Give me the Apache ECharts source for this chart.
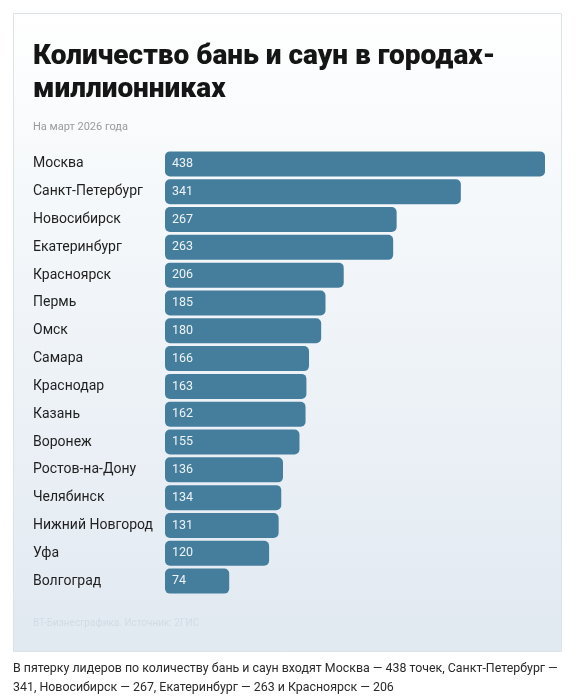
<!DOCTYPE html>
<html>
<head>
<meta charset="utf-8">
<script src="https://cdn.jsdelivr.net/npm/echarts@6/dist/echarts.min.js"></script>
<style>html,body{margin:0;padding:0;background:#fff;}#c{width:576px;height:700px;}</style>
</head>
<body>
<div id="c"></div>
<script>
const cities = ['Москва','Санкт-Петербург','Новосибирск','Екатеринбург','Красноярск','Пермь','Омск','Самара','Краснодар','Казань','Воронеж','Ростов-на-Дону','Челябинск','Нижний Новгород','Уфа','Волгоград'];
const counts = [438,341,267,263,206,185,180,166,163,162,155,136,134,131,120,74];
const titleText = 'Количество бань и саун в городах-\nмиллионниках';
const subtitleText = 'На март 2026 года';
const sourceText = 'ВТ-Бизнесграфика. Источник: 2ГИС';
const captionText = 'В пятерку лидеров по количеству бань и саун входят Москва — 438 точек, Санкт-Петербург —\n341, Новосибирск — 267, Екатеринбург — 263 и Красноярск — 206';

const chart = echarts.init(document.getElementById('c'), null, {renderer:'canvas'});
chart.setOption({
  animation:false,
  backgroundColor:'#ffffff',
  graphic:[
    {type:'rect', z:-10, shape:{x:13.5,y:13.5,width:548,height:638},
     style:{fill:new echarts.graphic.LinearGradient(0,0,0,1,[{offset:0,color:'#ffffff'},{offset:0.25,color:'#f6f9fb'},{offset:1,color:'#e1e9f1'}]), stroke:'#dde2e6', lineWidth:1}},
    {type:'text', left:13, top:659, style:{text:captionText, font:'12.4px "Roboto", sans-serif', fill:'#2a2a2a', lineHeight:19}}
  ],
  title:[
    {text:titleText, left:28, top:35, textStyle:{fontFamily:'Roboto', fontWeight:900, fontSize:28, color:'#151515', lineHeight:33}},
    {text:subtitleText, left:28, top:117, textStyle:{fontFamily:'Roboto', fontWeight:'normal', fontSize:11, color:'#9a9a9a'}},
    {text:sourceText, left:28, top:613, textStyle:{fontFamily:'Roboto', fontWeight:'normal', fontSize:10, color:'#d2dbe4'}}
  ],
  grid:{left:165, right:31, top:150, bottom:105, containLabel:false},
  xAxis:{type:'value', min:0, max:438, show:false},
  yAxis:{type:'category', data:cities, inverse:true,
    axisLine:{show:false}, axisTick:{show:false},
    axisLabel:{align:'left', margin:132, fontFamily:'Roboto', fontSize:14, color:'#1f1f1f'}},
  series:[{type:'bar', data:counts, barCategoryGap:'10%',
    itemStyle:{color:'#457e9d', borderRadius:5},
    label:{show:true, position:'insideLeft', offset:[2,0], fontFamily:'Roboto', fontSize:12.5, color:'#eef3f6'}}]
});
</script>
</body>
</html>
